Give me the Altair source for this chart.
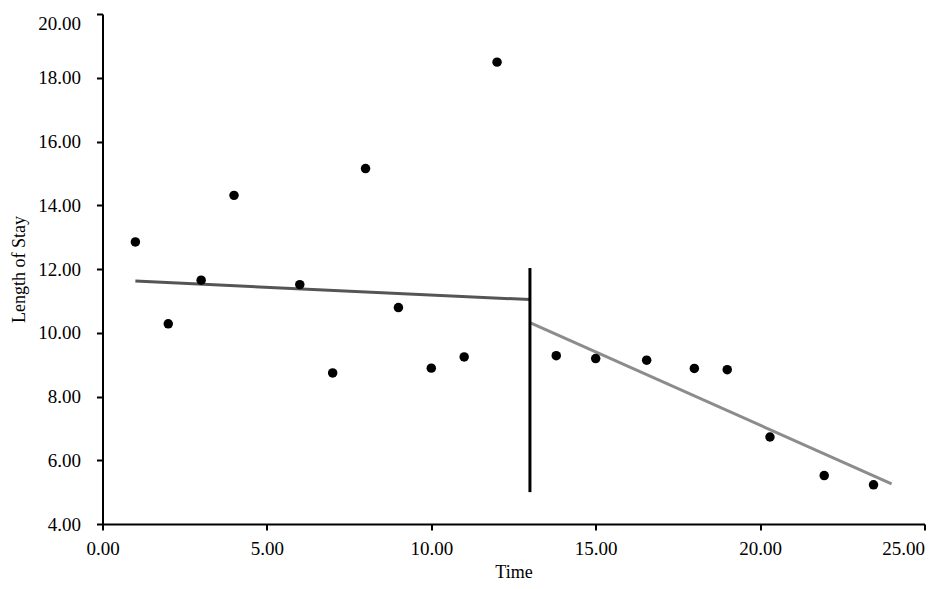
import altair as alt
import pandas as pd

# Observations
pre_x = [1, 2, 3, 4, 6, 7, 8, 9, 10, 11, 12]
pre_y = [12.85, 10.28, 11.65, 14.31, 11.51, 8.74, 15.15, 10.79, 8.89, 9.24, 18.49]
post_x = [13.8, 15, 16.55, 18, 19, 20.3, 21.95, 23.45]
post_y = [9.28, 9.19, 9.14, 8.88, 8.84, 6.73, 5.52, 5.23]

# Segmented regression lines
pre_fit_x = [1, 13]
pre_fit_y = [11.62, 11.04]
post_fit_x = [13, 24]
post_fit_y = [10.32, 5.26]

# Intervention marker
interv_x = [13]
interv_y0 = [5.0]
interv_y1 = [12.03]

x_ticks = [0, 5, 10, 15, 20, 25]
y_ticks = [4, 6, 8, 10, 12, 14, 16, 18, 20]

FONT = "Liberation Serif"

points = pd.DataFrame({"x": pre_x + post_x, "y": pre_y + post_y})
pre_fit = pd.DataFrame({"x": pre_fit_x, "y": pre_fit_y})
post_fit = pd.DataFrame({"x": post_fit_x, "y": post_fit_y})
interv = pd.DataFrame({"x": interv_x, "y": interv_y0, "y2": interv_y1})

xscale = alt.Scale(domain=[0, 25], nice=False, zero=False)
yscale = alt.Scale(domain=[4, 20], nice=False, zero=False)

xaxis = alt.Axis(
    title="Time", values=x_ticks, format=".2f", grid=False,
    domainColor="black", domainWidth=2, tickColor="black", tickWidth=2, tickSize=6,
    labelFont=FONT, labelFontSize=19, labelColor="black", labelPadding=9,
    labelAlign={"condition": {"test": "datum.value >= 25", "value": "right"}, "value": "center"},
    titleFont=FONT, titleFontSize=18, titleFontWeight="normal", titleColor="black", titlePadding=5,
)
yaxis = alt.Axis(
    title="Length of Stay", values=y_ticks, format=".2f", grid=False,
    domainColor="black", domainWidth=2, tickColor="black", tickWidth=2, tickSize=6,
    labelFont=FONT, labelFontSize=19, labelColor="black", labelPadding=16,
    labelBaseline={"condition": {"test": "datum.value >= 20", "value": "top"}, "value": "middle"},
    titleFont=FONT, titleFontSize=18, titleFontWeight="normal", titleColor="black", titlePadding=9,
)

base_x = alt.X("x:Q", scale=xscale, axis=xaxis)
base_y = alt.Y("y:Q", scale=yscale, axis=yaxis)

pts = alt.Chart(points).mark_circle(color="black", size=90, opacity=1).encode(x=base_x, y=base_y)
l1 = alt.Chart(pre_fit).mark_line(color="#555555", strokeWidth=3).encode(x="x:Q", y="y:Q")
l2 = alt.Chart(post_fit).mark_line(color="#8c8c8c", strokeWidth=3).encode(x="x:Q", y="y:Q")
vr = alt.Chart(interv).mark_rule(color="black", strokeWidth=3).encode(x="x:Q", y="y:Q", y2="y2:Q")

chart = alt.layer(l1, l2, vr, pts).properties(
    width=822, height=510,
    autosize=alt.AutoSizeParams(type="none"),
    padding={"left": 94.5, "top": 6, "right": 2.5, "bottom": 57},
    background="white",
).configure_view(stroke=None)

chart.save("out.html", embed_options={"renderer": "svg", "actions": False})
